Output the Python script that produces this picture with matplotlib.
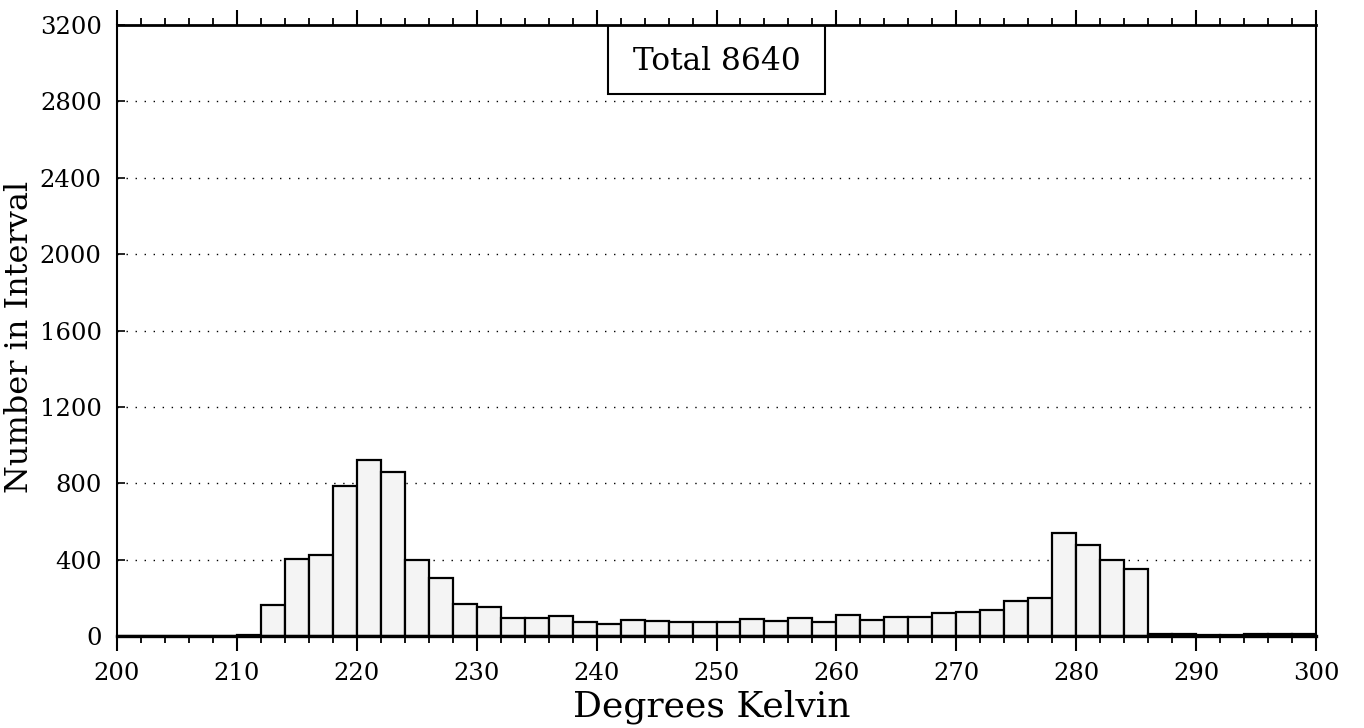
""" Histogram of brightness temperatures (Degrees Kelvin) """

import matplotlib
matplotlib.use("Agg")
import matplotlib.pyplot as plt
from matplotlib.patches import Rectangle
from matplotlib.ticker import MultipleLocator

# left edge of each 2 K interval
bin_left = [200, 202, 204, 206, 208, 210, 212, 214, 216, 218,
            220, 222, 224, 226, 228, 230, 232, 234, 236, 238,
            240, 242, 244, 246, 248, 250, 252, 254, 256, 258,
            260, 262, 264, 266, 268, 270, 272, 274, 276, 278,
            280, 282, 284, 286, 288, 290, 292, 294, 296, 298]
counts = [0, 0, 0, 0, 2, 5, 162, 405, 425, 788,
          920, 858, 398, 306, 170, 150, 92, 92, 105, 73,
          62, 86, 78, 75, 75, 73, 88, 80, 93, 71,
          109, 85, 100, 100, 122, 125, 136, 185, 198, 540,
          478, 400, 352, 12, 8, 6, 6, 8, 10, 10]
bin_width = 2
total_label = "Total 8640"
y_ticks = [0, 400, 800, 1200, 1600, 2000, 2400, 2800, 3200]

plt.rcParams["font.family"] = ["DejaVu Serif"]

fig = plt.figure(figsize=(13.64, 7.28), dpi=100)
ax = fig.add_axes([117 / 1364, 1 - 636 / 728, 1199 / 1364, 611 / 728])

ax.bar(bin_left, counts, width=bin_width, align="edge",
       facecolor="#f4f4f4", edgecolor="black", linewidth=1.6, zorder=3)

ax.set_xlim(200, 300)
ax.set_ylim(0, 3200)

# dotted grid lines, only horizontal ones
for y in y_ticks[1:-1]:
    ax.axhline(y, color="black", linewidth=1.0, linestyle=(0, (1, 5.5)), zorder=1)

ax.set_yticks(y_ticks)
ax.xaxis.set_major_locator(MultipleLocator(10))
ax.xaxis.set_minor_locator(MultipleLocator(2))
ax.tick_params(axis="x", which="major", direction="out", length=11, width=1.5,
               top=True, labelsize=17.5, pad=8, color="black")
ax.tick_params(axis="x", which="minor", direction="out", length=5, width=1.3, top=True)
ax.tick_params(axis="y", which="major", direction="in", length=6, width=1.2,
               labelsize=17.5, pad=11)

for side in ["left", "right"]:
    ax.spines[side].set_linewidth(1.5)
ax.spines["top"].set_linewidth(2.0)
ax.spines["bottom"].set_linewidth(2.4)
for sp in ax.spines.values():
    sp.set_zorder(5)

ax.set_xlabel("Degrees Kelvin", fontsize=26)
ax.xaxis.set_label_coords(0.496, -0.088)
ax.set_ylabel("Number in Interval", fontsize=23)
ax.yaxis.set_label_coords(-0.068, 0.49)

# the "Total" box hanging from the top of the frame
ax.add_patch(Rectangle((0.4095, 0.887), 0.181, 0.113, transform=ax.transAxes,
                       facecolor="white", edgecolor="black", linewidth=1.5, zorder=4))
ax.text(0.5, 0.941, total_label, transform=ax.transAxes, ha="center", va="center",
        fontsize=22.5, zorder=6)

fig.savefig("out.png", dpi=100)
